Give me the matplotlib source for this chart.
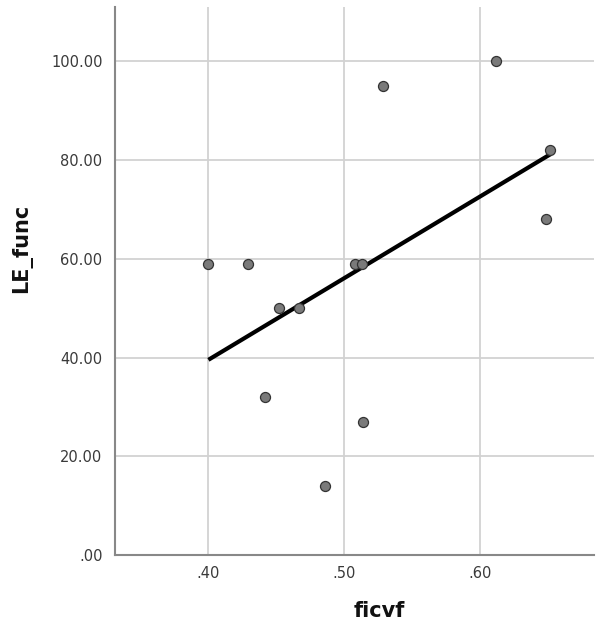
import numpy as np
import matplotlib
matplotlib.use('Agg')
import matplotlib.pyplot as plt

# Data
ficvf = [0.400, 0.429, 0.442, 0.452, 0.467, 0.486, 0.508, 0.513, 0.514, 0.529, 0.612, 0.649, 0.652]
le_func = [59, 59, 32, 50, 50, 14, 59, 59, 27, 95, 100, 68, 82]

x_ticks = [0.40, 0.50, 0.60]
x_ticklabels = ['.40', '.50', '.60']
y_ticks = [0, 20, 40, 60, 80, 100]
y_ticklabels = ['.00', '20.00', '40.00', '60.00', '80.00', '100.00']

fig = plt.figure(figsize=(6.06, 6.26), dpi=100)
ax = fig.add_axes([0.1898, 0.1134, 0.7904, 0.8754])

# Fit line (least squares) over the data range
slope, intercept = np.polyfit(ficvf, le_func, 1)
xs = np.array([min(ficvf), max(ficvf)])
ax.plot(xs, slope * xs + intercept, color='black', lw=3, zorder=3,
        solid_capstyle='butt')

ax.scatter(ficvf, le_func, s=52, facecolor='#7a7a7a', edgecolor='#333333',
           linewidths=0.9, zorder=4)

ax.set_xlim(0.3312, 0.6842)
ax.set_ylim(0, 111)

ax.set_xticks(x_ticks)
ax.set_xticklabels(x_ticklabels)
ax.set_yticks(y_ticks)
ax.set_yticklabels(y_ticklabels)
ax.tick_params(axis='both', length=0, labelsize=10.5, colors='#3a3a3a')
ax.tick_params(axis='x', pad=8)
ax.tick_params(axis='y', pad=9)

ax.grid(True, color='#d2d2d2', lw=1.3)
ax.set_axisbelow(True)

for side in ['top', 'right']:
    ax.spines[side].set_visible(False)
for side in ['left', 'bottom']:
    ax.spines[side].set_color('#888888')
    ax.spines[side].set_linewidth(1.5)

ax.set_xlabel('ficvf', fontsize=15, fontweight='bold', color='#111111')
ax.set_ylabel('LE_func', fontsize=15, fontweight='bold', color='#111111')
ax.xaxis.set_label_coords(0.551, -0.102)
ax.xaxis.label.set_verticalalignment('center')
ax.yaxis.set_label_coords(-0.194, 0.560)
ax.yaxis.label.set_verticalalignment('center')

fig.savefig('out.png', dpi=100)
